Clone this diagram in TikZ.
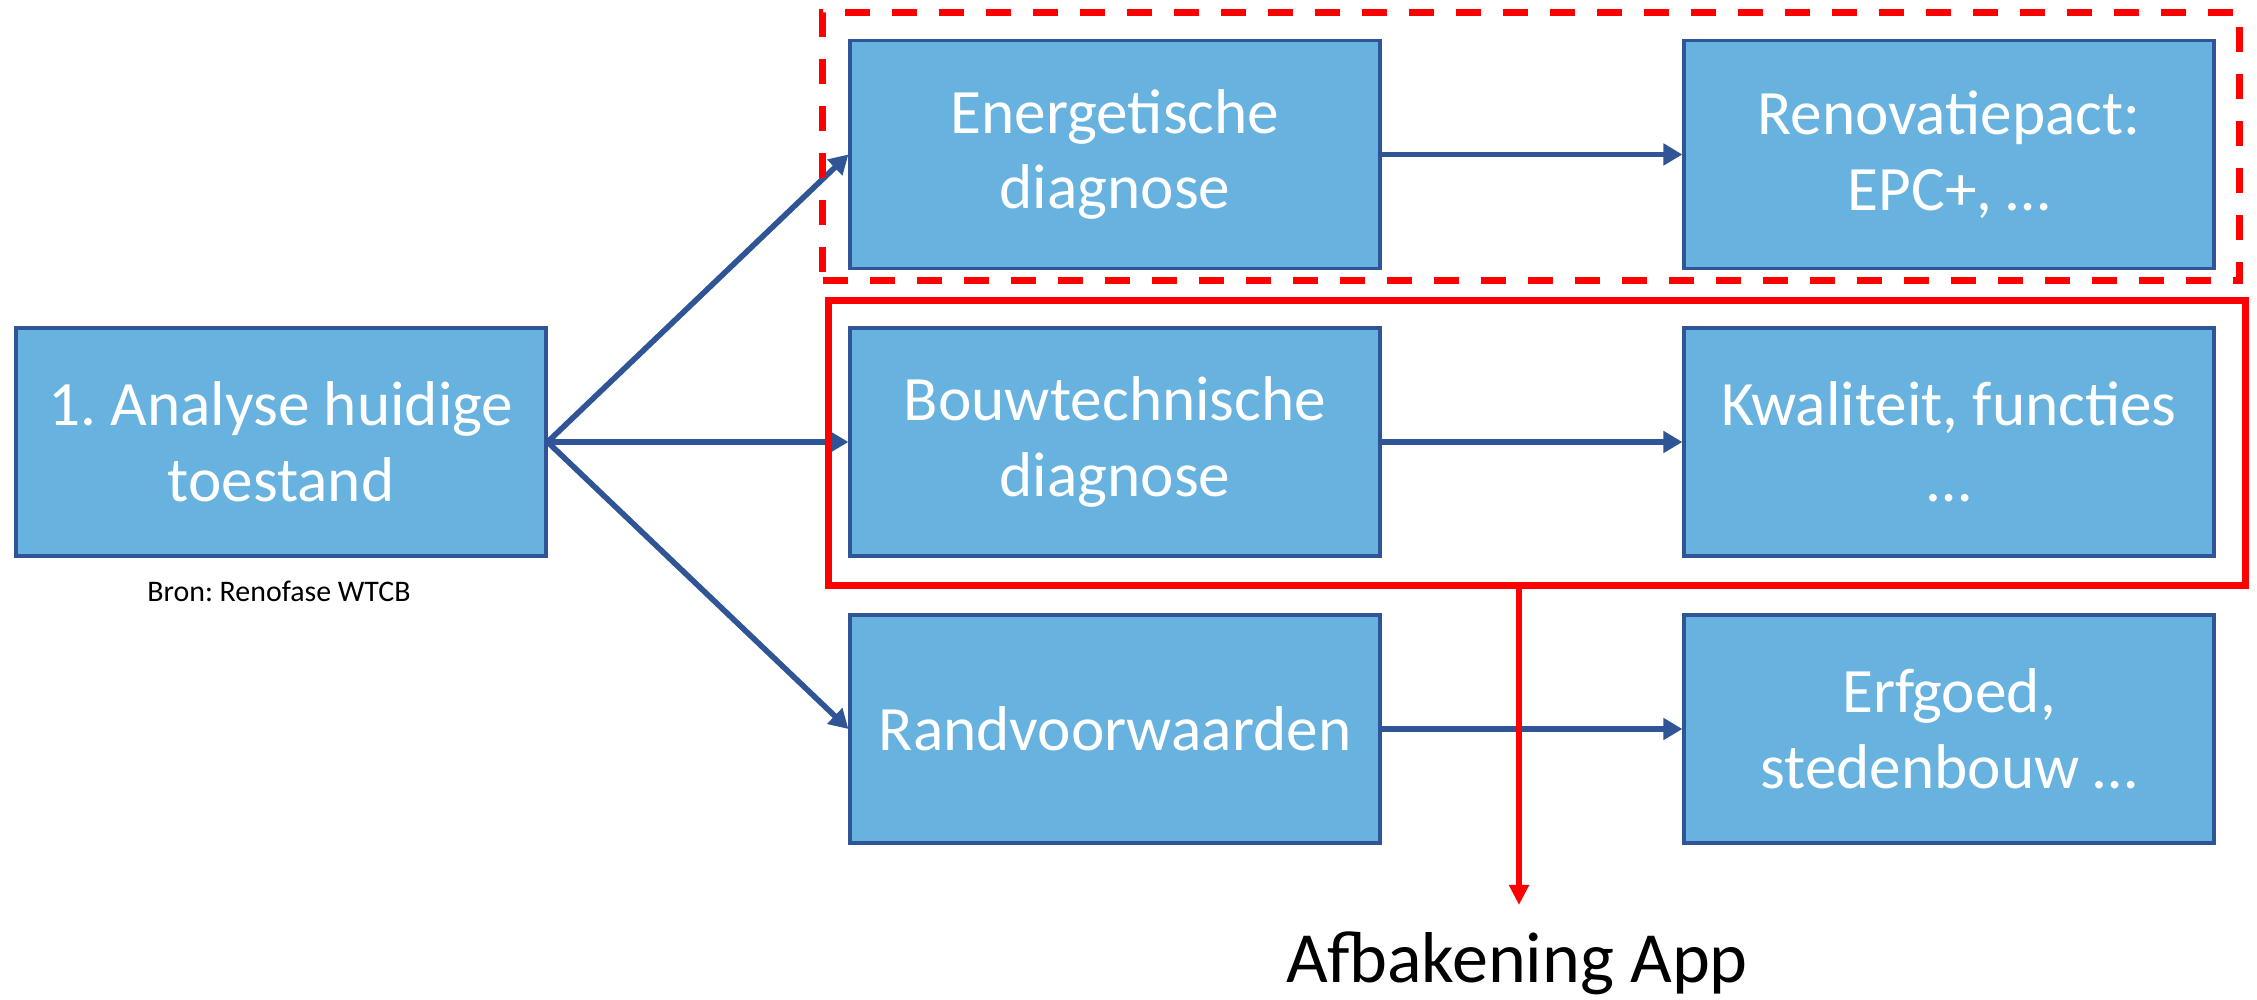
\documentclass[tikz,border=0pt]{standalone}
\usepackage{fontspec}
\setmainfont{Carlito}
\usetikzlibrary{arrows.meta}
\definecolor{boxfill}{HTML}{67B2DF}
\definecolor{boxline}{HTML}{2F5597}
\frenchspacing

\begin{document}
\begin{tikzpicture}[
	>={Triangle[length=1.9mm,width=2.1mm]},
	stap/.style={draw=boxline, line width=0.9pt, fill=boxfill, text=white,
		minimum width=5.3cm, minimum height=2.28cm, inner sep=0pt,
		align=center, font=\fontsize{18}{21.6}\selectfont},
	pijl/.style={->, draw=boxline, line width=1.6pt},
	kader/.style={draw=red, line width=1.8pt, minimum width=14.17cm, inner sep=0pt}
]
	\useasboundingbox (0,0) rectangle (22.57,-10);
	\node [stap] (A) at (2.81,-4.42) {1. Analyse huidige\\toestand};
	\node [stap] (E) at (11.15,-1.545) {Energetische\\diagnose};
	\node [stap] (EP) at (19.49,-1.545) {Renovatiepact:\\EPC+, …};
	\node [stap] (B) at (11.15,-4.42) {Bouwtechnische\\diagnose};
	\node [stap] (BK) at (19.49,-4.42) {Kwaliteit, functies\\…};
	\node [stap] (R) at (11.15,-7.29) {Randvoorwaarden};
	\node [stap] (RE) at (19.49,-7.29) {Erfgoed,\\stedenbouw …};
	\node [anchor=base, font=\fontsize{8.5}{10}\selectfont] (bron) at (2.79,-6.02) {Bron: Renofase WTCB};
	\node [anchor=base, font=\fontsize{20.5}{24}\selectfont] (app) at (15.17,-9.83) {Afbakening App};
	\draw [pijl] (A.east) -- (E.west);
	\draw [pijl] (A.east) -- (B.west);
	\draw [pijl] (A.east) -- (R.west);
	\draw [pijl] (E) -- (EP);
	\draw [pijl] (B) -- (BK);
	\draw [pijl] (R) -- (RE);
	% kaders rond de diagnoses
	\node [kader, dash pattern=on 0.25cm off 0.22cm, minimum height=2.68cm] (F1) at (15.31,-1.465) {};
	\node [kader, minimum height=2.85cm] (F2) at (15.37,-4.43) {};
	\coordinate (tip) at (15.19,-9.05);
	\draw [red, line width=1.6pt, -{Triangle[length=2mm,width=1.9mm]}] (F2.south -| tip) -- (tip);
\end{tikzpicture}
\end{document}
